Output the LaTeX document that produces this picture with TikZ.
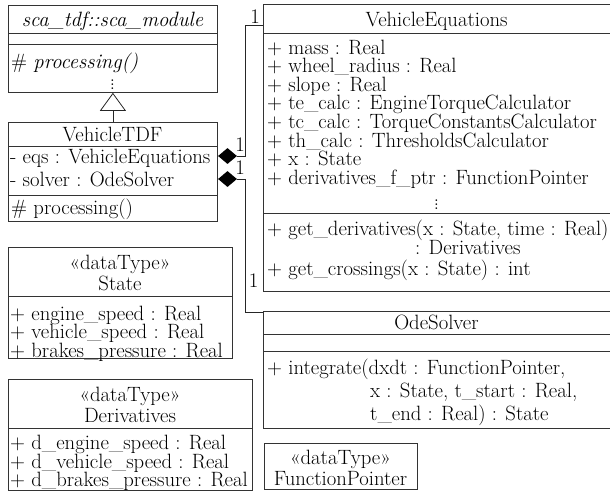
\documentclass[tikz,border=0pt]{standalone}
\usetikzlibrary{arrows.meta,shapes.geometric}
\begin{document}
\begin{tikzpicture}[x=1pt,y=-1pt,
  every node/.style={font=\fontsize{20.7}{20.7}\selectfont, inner sep=0pt},
  umlbox/.style={draw=black!80, line width=0.8pt, anchor=north west, inner sep=0pt},
  sep/.style={draw=black!80, line width=0.8pt},
  txt/.style={anchor=base west},
  ctr/.style={anchor=base},
  comp/.style={diamond, fill=black, inner sep=0pt, minimum width=19pt, minimum height=16pt},
  link/.style={draw=black!85, line width=0.8pt},
  mult/.style={anchor=base}]
\useasboundingbox (0,0) rectangle (610,491);

% sca_module
\node[umlbox, minimum width=209pt, minimum height=87pt] (sca) at (8,5) {};
\draw[sep] (8,33) -- (217,33);
\draw[sep] (8,44) -- (217,44);
\node[ctr] (scat) at (112.5,26) {\itshape sca\_tdf::sca\_module};
\node[txt] (scap) at (11,68) {\# \textit{processing()}};
\node (scad) at (112.5,81.5) {$\vdots$};

% VehicleTDF
\node[umlbox, minimum width=209pt, minimum height=99pt] (tdf) at (8,122) {};
\draw[sep] (8,146) -- (217,146);
\draw[sep] (8,195) -- (217,195);
\node[ctr] (tdft) at (112.5,141) {VehicleTDF};
\node[txt] (tdfa) at (10,163) {- eqs : VehicleEquations};
\node[txt] (tdfb) at (10,186) {- solver : OdeSolver};
\node[txt] (tdfc) at (11,214) {\# processing()};

% inheritance
\draw[link, -{Triangle[open, length=18pt, width=26pt, line width=0.8pt]}] (tdf.north) -- (sca.south);

% VehicleEquations
\node[umlbox, minimum width=350pt, minimum height=287pt] (veq) at (263,4) {};
\draw[sep] (263,33) -- (613,33);
\draw[sep] (263,213) -- (613,213);
\node[ctr] (veqt) at (436.5,26) {VehicleEquations};
\node[txt] (veq1) at (267,54) {+ mass : Real};
\node[txt] (veq2) at (267,72.6) {+ wheel\_radius : Real};
\node[txt] (veq3) at (267,91.2) {+ slope : Real};
\node[txt] (veq4) at (267,109.8) {+ te\_calc : EngineTorqueCalculator};
\node[txt] (veq5) at (267,128.4) {+ tc\_calc : TorqueConstantsCalculator};
\node[txt] (veq6) at (267,147) {+ th\_calc : ThresholdsCalculator};
\node[txt] (veq7) at (267,165.6) {+ x : State};
\node[txt] (veq8) at (267,184.2) {+ derivatives\_f\_ptr : FunctionPointer};
\node (veqd) at (436.5,202) {$\vdots$};
\node[txt] (veqm1) at (267,235) {+ get\_derivatives(x : State, time : Real)};
\node[txt] (veqm2) at (415,254) {: Derivatives};
\node[txt] (veqm3) at (267,275) {+ get\_crossings(x : State) : int};

% OdeSolver
\node[umlbox, minimum width=350pt, minimum height=117pt] (ode) at (263,311) {};
\draw[sep] (263,334) -- (613,334);
\draw[sep] (263,351) -- (613,351);
\node[ctr] (odet) at (436.5,329) {OdeSolver};
\node[txt] (ode1) at (267,374) {+ integrate(dxdt : FunctionPointer,};
\node[txt] (ode2) at (370,397) {x : State, t\_start : Real,};
\node[txt] (ode3) at (370,420) {t\_end : Real) : State};

% FunctionPointer
\node[umlbox, minimum width=153pt, minimum height=46pt] (fp) at (264,443) {};
\node[ctr] (fp1) at (340.5,464) {«dataType»};
\node[ctr] (fp2) at (340.5,485) {FunctionPointer};

% State
\node[umlbox, minimum width=224pt, minimum height=111pt] (st) at (8,247) {};
\draw[sep] (8,296) -- (232,296);
\node[ctr] (st1) at (120,269) {«dataType»};
\node[ctr] (st2) at (120,290) {State};
\node[txt] (st3) at (10,320) {+ engine\_speed : Real};
\node[txt] (st4) at (10,338.5) {+ vehicle\_speed : Real};
\node[txt] (st5) at (10,357) {+ brakes\_pressure : Real};

% Derivatives
\node[umlbox, minimum width=244pt, minimum height=111pt] (der) at (8,379) {};
\draw[sep] (8,428) -- (252,428);
\node[ctr] (der1) at (130,401) {«dataType»};
\node[ctr] (der2) at (130,422) {Derivatives};
\node[txt] (der3) at (10,449.5) {+ d\_engine\_speed : Real};
\node[txt] (der4) at (10,468) {+ d\_vehicle\_speed : Real};
\node[txt] (der5) at (10,486.5) {+ d\_brakes\_pressure : Real};

% compositions
\node[comp] (d1) at (227.5,156) {};
\node[comp] (d2) at (227.5,179) {};
\coordinate (veqin) at (263,25);
\coordinate (odein) at (263,312);
\draw[link] (d1.east) -- ++(8,0) |- (veqin);
\draw[link] (d2.east) -- ++(8,0) |- (odein);
\node[mult] (m1) at (240,151) {1};
\node[mult] (m2) at (240,174) {1};
\node[mult] (m3) at (255,23) {1};
\node[mult] (m4) at (253.5,287) {1};
\end{tikzpicture}
\end{document}
